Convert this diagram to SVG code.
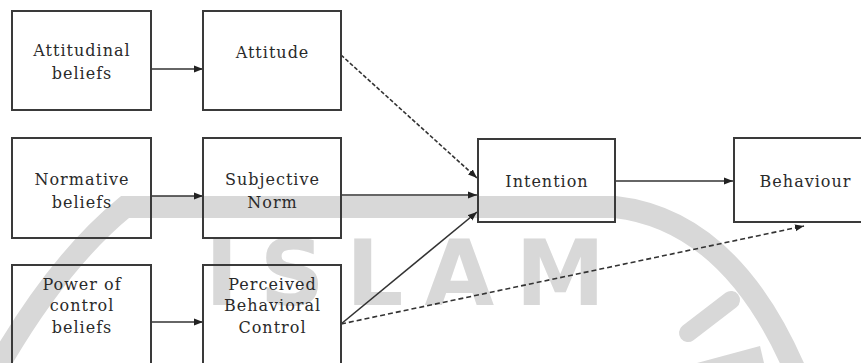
<svg xmlns="http://www.w3.org/2000/svg" width="861" height="363" viewBox="0 0 861 363">
<style>
.box{fill:none;stroke:#3a3a3a;stroke-width:2}
.lbl{font-family:"DejaVu Serif","Liberation Serif",serif;font-size:16px;letter-spacing:1px;fill:#2a2a2a;text-anchor:middle}
.con{stroke:#333;stroke-width:1.6;fill:none}
.wm{fill:none;stroke:#d8d8d8}
</style>
<defs>
<marker id="ah" markerUnits="userSpaceOnUse" markerWidth="10" markerHeight="8" refX="9" refY="4" orient="auto">
<path d="M0,0.5 L9,4 L0,7.5 z" fill="#222"/>
</marker>
</defs>
<rect width="861" height="363" fill="#fff"/>
<g id="watermark">
<path class="wm" stroke-width="22" d="M0,363 Q60,260 125,207 L615,207 Q730,220 795,370"/>
<path class="wm" stroke-width="18" stroke-linecap="round" d="M688,333 L731,300"/>
<path fill="#d8d8d8" d="M697,363 L760,346 L764,363 z"/>
<text x="405" y="305" font-family="DejaVu Sans,sans-serif" font-weight="bold" font-size="90" fill="#d8d8d8" text-anchor="middle" textLength="400">ISLAM</text>
</g>
<g id="connectors">
<line class="con" x1="151" y1="69" x2="203" y2="69" marker-end="url(#ah)"/>
<line class="con" x1="151" y1="196" x2="203" y2="196" marker-end="url(#ah)"/>
<line class="con" x1="151" y1="322" x2="203" y2="322" marker-end="url(#ah)"/>
<line class="con" x1="341" y1="55" x2="477" y2="178" stroke-dasharray="4,2" marker-end="url(#ah)"/>
<line class="con" x1="341" y1="195" x2="477" y2="195" marker-end="url(#ah)"/>
<line class="con" x1="341" y1="324" x2="477" y2="212" marker-end="url(#ah)"/>
<line class="con" x1="341" y1="324" x2="804" y2="226" stroke-dasharray="5,3" stroke-width="2" marker-end="url(#ah)"/>
<line class="con" x1="615" y1="181" x2="733" y2="181" marker-end="url(#ah)"/>
</g>
<g id="n1"><rect class="box" x="12" y="11" width="139" height="99"/><text class="lbl" x="82" y="56">Attitudinal</text><text class="lbl" x="82" y="79">beliefs</text></g>
<g id="n2"><rect class="box" x="203" y="11" width="138" height="99"/><text class="lbl" x="272.5" y="58">Attitude</text></g>
<g id="n3"><rect class="box" x="12" y="138" width="139" height="100"/><text class="lbl" x="82" y="185">Normative</text><text class="lbl" x="82" y="208">beliefs</text></g>
<g id="n4"><rect class="box" x="203" y="138" width="138" height="100"/><text class="lbl" x="272.5" y="185">Subjective</text><text class="lbl" x="272.5" y="208">Norm</text></g>
<g id="n5"><rect class="box" x="12" y="265" width="139" height="110"/><text class="lbl" x="82" y="290">Power of</text><text class="lbl" x="82" y="311">control</text><text class="lbl" x="82" y="333">beliefs</text></g>
<g id="n6"><rect class="box" x="203" y="265" width="138" height="110"/><text class="lbl" x="272.5" y="290">Perceived</text><text class="lbl" x="272.5" y="311">Behavioral</text><text class="lbl" x="272.5" y="333">Control</text></g>
<g id="n7"><rect class="box" x="478" y="139" width="137" height="83"/><text class="lbl" x="547" y="187">Intention</text></g>
<g id="n8"><rect class="box" x="734" y="138" width="150" height="84"/><text class="lbl" x="805.5" y="187">Behaviour</text></g>
</svg>
